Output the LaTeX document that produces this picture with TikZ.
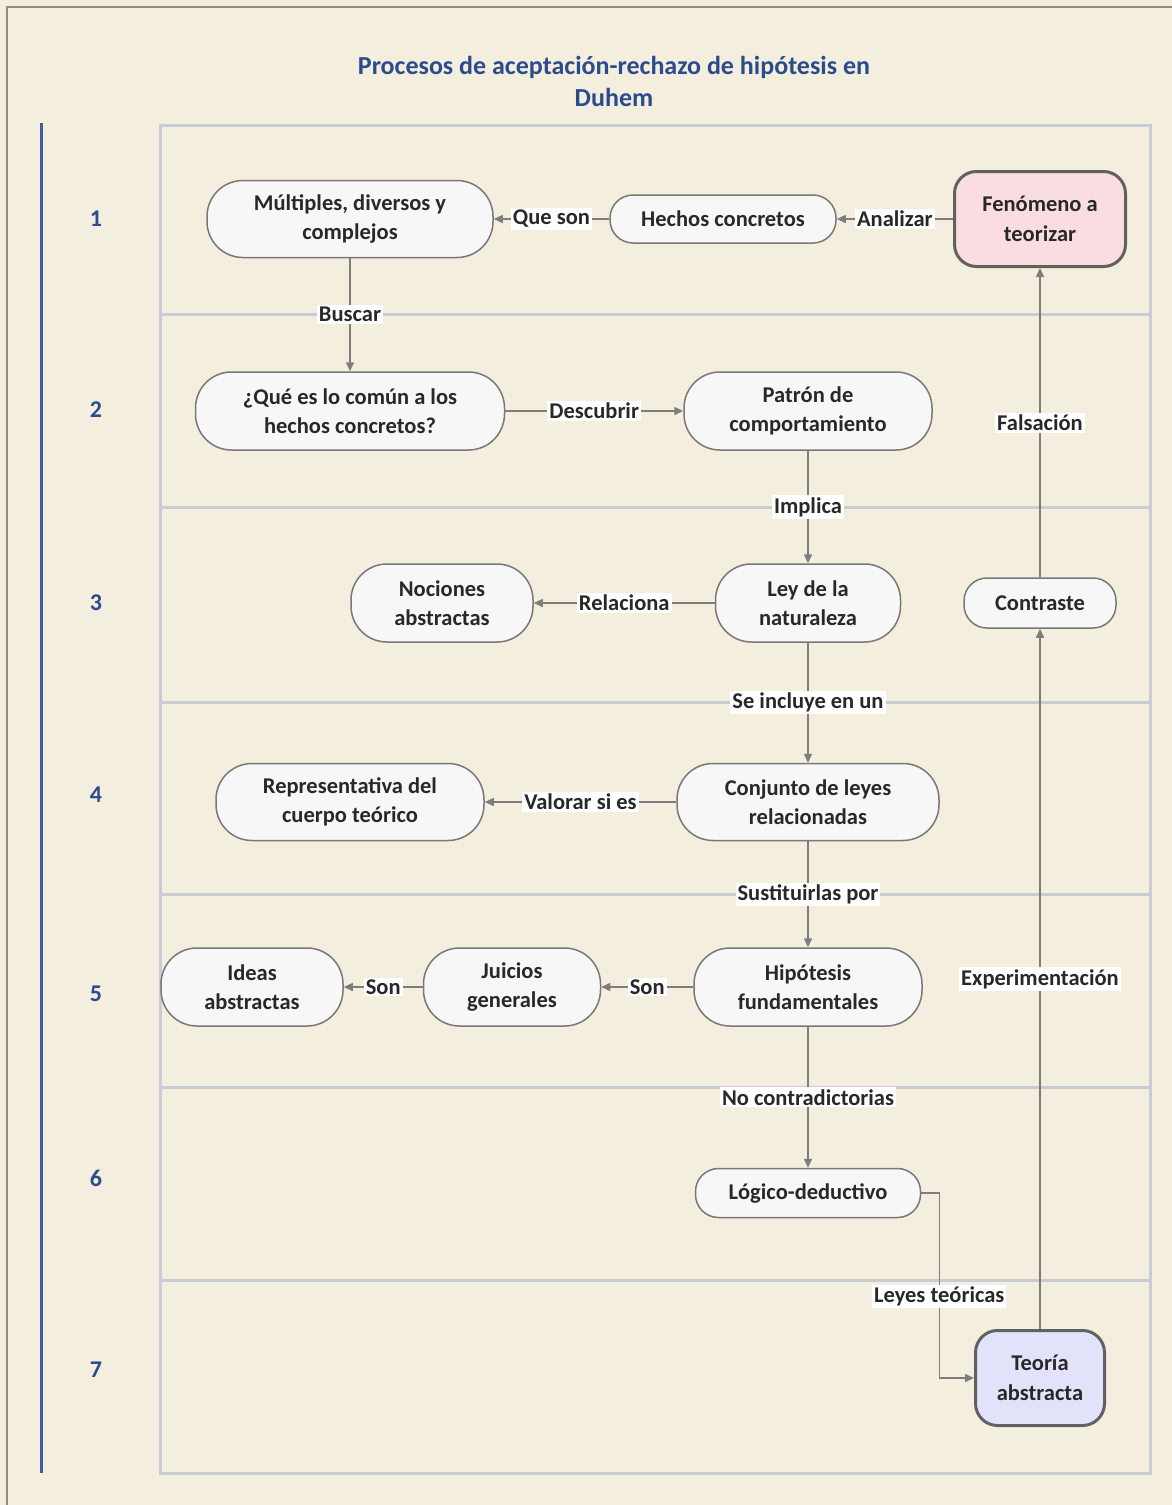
\documentclass[tikz,border=0pt]{standalone}
\usepackage{fontspec}
\setmainfont{Carlito}
\usetikzlibrary{arrows.meta}
\definecolor{paper}{RGB}{244,238,222}
\definecolor{lane}{RGB}{201,203,214}
\definecolor{rule}{RGB}{61,95,158}
\definecolor{titleblue}{RGB}{43,76,140}
\definecolor{edgegray}{RGB}{125,125,125}
\definecolor{boxline}{RGB}{120,120,120}
\definecolor{boxfill}{RGB}{247,247,247}
\definecolor{ink}{RGB}{40,40,40}
\definecolor{pinkfill}{RGB}{249,221,225}
\definecolor{lilacfill}{RGB}{226,226,250}
\begin{document}
\begin{tikzpicture}[x=1pt,y=-1pt,
  txt/.style={font=\fontsize{22.5}{29.5}\selectfont\bfseries, text=ink, align=center},
  box/.style={txt, draw=boxline, line width=1.5pt, fill=boxfill, inner sep=0pt},
  stadium/.style={box, rounded corners=36pt},
  slim/.style={box, rounded corners=23pt},
  keybox/.style={txt, draw=black!62, line width=3pt, rounded corners=22pt, inner sep=0pt},
  lbl/.style={txt, fill=white, inner sep=2pt, outer sep=0pt},
  edge/.style={draw=edgegray, line width=1.5pt, -{Triangle[length=9pt,width=8pt]}},
  num/.style={font=\fontsize{24}{28}\selectfont\bfseries, text=titleblue}
]
\useasboundingbox (0,0) rectangle (1172,1505);
% paper background and outer border
\fill[paper] (0,0) rectangle (1172,1505);
\draw[black!45, line width=2pt] (7,1505) -- (7,7) -- (1172,7);

% title
\node[txt, text=titleblue, font=\fontsize{26}{32}\selectfont\bfseries] (title) at (614,81) {Procesos de aceptación-rechazo de hipótesis en\\Duhem};

% left rule and row numbers
\draw[rule, line width=3pt] (41,123) -- (41,1473);
\node[num] (n1) at (96,219) {1};
\node[num] (n2) at (96,410) {2};
\node[num] (n3) at (96,603) {3};
\node[num] (n4) at (96,795) {4};
\node[num] (n5) at (96,994) {5};
\node[num] (n6) at (96,1178) {6};
\node[num] (n7) at (96,1370) {7};

% swim lanes
\draw[lane, line width=3pt] (160,125) rectangle (1150,1473);
\foreach \yy in {314,507,702,894,1087,1280}
  \draw[lane, line width=3pt] (160,\yy) -- (1150,\yy);

% nodes
\node[stadium, minimum width=286pt, minimum height=77pt] (mul) at (350,219) {Múltiples, diversos y\\complejos};
\node[slim, minimum width=226pt, minimum height=48pt] (hec) at (723,219) {Hechos concretos};
\node[keybox, fill=pinkfill, minimum width=171pt, minimum height=95pt] (fen) at (1040,219) {Fenómeno a\\teorizar};
\node[stadium, minimum width=309pt, minimum height=78pt] (que) at (350,411) {¿Qué es lo común a los\\hechos concretos?};
\node[stadium, minimum width=248pt, minimum height=78pt] (pat) at (808,411) {Patrón de\\comportamiento};
\node[slim, minimum width=152pt, minimum height=50pt] (con) at (1040,603) {Contraste};
\node[stadium, minimum width=185pt, minimum height=78pt] (ley) at (808,603) {Ley de la\\naturaleza};
\node[stadium, minimum width=182pt, minimum height=78pt] (noc) at (442,603) {Nociones\\abstractas};
\node[stadium, minimum width=262pt, minimum height=77pt] (cjt) at (808,802) {Conjunto de leyes\\relacionadas};
\node[stadium, minimum width=268pt, minimum height=77pt] (rep) at (350,802) {Representativa del\\cuerpo teórico};
\node[stadium, minimum width=228pt, minimum height=78pt] (hip) at (808,987) {Hipótesis\\fundamentales};
\node[stadium, minimum width=177pt, minimum height=78pt] (jui) at (512,987) {Juicios\\generales};
\node[stadium, minimum width=182pt, minimum height=78pt] (ide) at (252,987) {Ideas\\abstractas};
\node[slim, minimum width=225pt, minimum height=49pt] (log) at (808,1193) {Lógico-deductivo};
\node[keybox, fill=lilacfill, minimum width=129pt, minimum height=95pt] (teo) at (1040,1378) {Teoría\\abstracta};

% connectors
\draw[edge] (fen.west) -- node[lbl] {Analizar} (hec.east);
\draw[edge] (hec.west) -- node[lbl] {Que son} (mul.east);
\draw[edge] (mul.south) -- node[lbl] {Buscar} (que.north);
\draw[edge] (que.east) -- node[lbl] {Descubrir} (pat.west);
\draw[edge] (pat.south) -- node[lbl] {Implica} (ley.north);
\draw[edge] (ley.west) -- node[lbl] {Relaciona} (noc.east);
\draw[edge] (ley.south) -- node[lbl] {Se incluye en un} (cjt.north);
\draw[edge] (cjt.west) -- node[lbl] {Valorar si es} (rep.east);
\draw[edge] (cjt.south) -- node[lbl] {Sustituirlas por} (hip.north);
\draw[edge] (hip.west) -- node[lbl] {Son} (jui.east);
\draw[edge] (jui.west) -- node[lbl] {Son} (ide.east);
\draw[edge] (hip.south) -- node[lbl] {No contradictorias} (log.north);
\draw[edge] (log.east) -- ++(18,0) |- node[lbl, pos=0.28] {Leyes teóricas} (teo.west);
\draw[edge] (teo.north) -- node[lbl] {Experimentación} (con.south);
\draw[edge] (con.north) -- node[lbl] {Falsación} (fen.south);
\end{tikzpicture}
\end{document}
